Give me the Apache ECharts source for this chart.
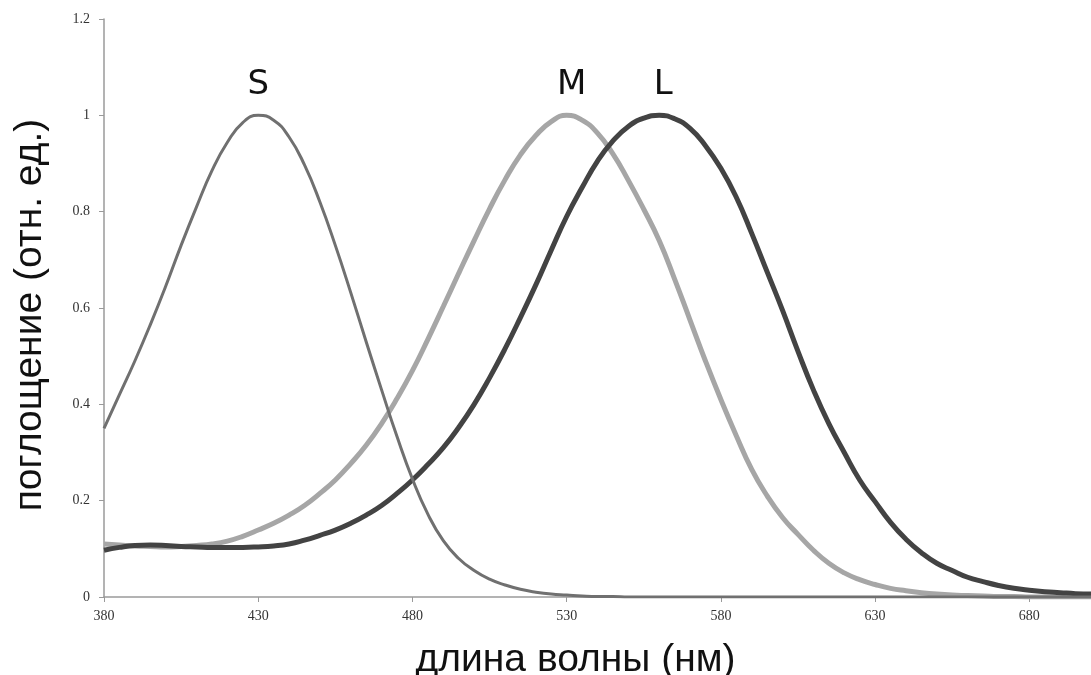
<!DOCTYPE html>
<html>
<head>
<meta charset="utf-8">
<script src="https://cdn.jsdelivr.net/npm/echarts@6/dist/echarts.min.js"></script>
<style>
html,body{margin:0;padding:0;background:#fff;}
#chart{width:1091px;height:675px;}
</style>
</head>
<body>
<div id="chart"></div>
<script>
var wavelengths = [];
for (var w = 380; w <= 700; w += 5) wavelengths.push(w);
var sValues = [0.35,0.42,0.49,0.565,0.645,0.73,0.81,0.885,0.944,0.985,1.0,0.99,0.955,0.897,0.82,0.73,0.632,0.53,0.43,0.333,0.245,0.172,0.117,0.08,0.055,0.037,0.025,0.016,0.01,0.006,0.004,0.002,0.001,0.001,
  0,0,0,0,0,0,0,0,0,0,0,0,0,0,0,0,0,0,0,0,0,0,0,0,0,0,0,0,0,0,0];
var mValues = [0.11,0.108,0.106,0.105,0.104,0.105,0.107,0.11,0.116,0.126,0.139,0.153,0.17,0.19,0.215,0.243,0.277,0.315,0.36,0.412,0.47,0.535,0.603,0.672,0.74,0.806,0.866,0.918,0.958,0.987,1.0,0.99,0.963,0.92,0.865,0.805,0.74,0.66,0.575,0.49,0.41,0.335,0.265,0.21,0.165,0.13,0.097,0.07,0.05,0.036,0.026,0.018,0.013,0.009,0.006,0.004,0.003,0.002,0.001,0.001,0,0,0,0,0];
var lValues = [0.097,0.103,0.107,0.108,0.107,0.105,0.104,0.103,0.103,0.103,0.104,0.106,0.11,0.118,0.128,0.139,0.153,0.17,0.19,0.215,0.243,0.275,0.31,0.352,0.40,0.455,0.515,0.58,0.648,0.72,0.79,0.85,0.905,0.947,0.977,0.994,1.0,0.993,0.973,0.937,0.89,0.83,0.755,0.675,0.595,0.51,0.43,0.36,0.30,0.243,0.198,0.155,0.12,0.092,0.07,0.055,0.041,0.032,0.024,0.018,0.014,0.011,0.009,0.007,0.006];
var yTicks = {min: 0, max: 1.2, interval: 0.2};
var xTicks = {min: 380, max: 700, interval: 50};
var seriesNames = ['S','M','L'];

function pairs(vals){ return wavelengths.map(function(w,i){ return [w, vals[i]]; }); }

function peakMark(name, vals, dx){
  var mi = 0;
  for (var i=1;i<vals.length;i++) if (vals[i]>vals[mi]) mi=i;
  return {
    symbol: 'circle', symbolSize: 0, silent: true,
    data: [{coord: [wavelengths[mi], vals[mi]], value: name}],
    label: {show: true, position: 'top', distance: 13, offset: [dx, 0], formatter: name,
            fontFamily: 'DejaVu Sans', fontSize: 34, color: '#111'}
  };
}

var chart = echarts.init(document.getElementById('chart'), null, {renderer:'canvas'});
chart.setOption({
  animation: false,
  backgroundColor: '#fff',
  grid: {left: 104, right: 0, top: 19, bottom: 78, containLabel: false, outerBoundsMode: 'none'},
  xAxis: {
    type: 'value', min: xTicks.min, max: xTicks.max, interval: xTicks.interval,
    name: 'длина волны (нм)', nameLocation: 'middle', nameGap: 44,
    nameTextStyle: {fontFamily: 'Liberation Sans', fontSize: 39, color: '#111', padding: [0, 44, 0, 0]},
    axisLine: {show: true, lineStyle: {color: '#9a9a9a', width: 1.5}},
    axisTick: {show: true, length: 5, lineStyle: {color: '#9a9a9a'}},
    axisLabel: {fontFamily: 'Liberation Serif', fontSize: 14, color: '#333', margin: 12,
      formatter: function(v){ return v === xTicks.max ? '' : String(v); }},
    splitLine: {show: false}
  },
  yAxis: {
    type: 'value', min: yTicks.min, max: yTicks.max, interval: yTicks.interval,
    name: 'поглощение (отн. ед.)', nameLocation: 'middle', nameGap: 54, nameRotate: 90,
    nameTextStyle: {fontFamily: 'Liberation Sans', fontSize: 39, color: '#111', padding: [0, 14, 0, 0]},
    axisLine: {show: true, lineStyle: {color: '#9a9a9a', width: 1.5}},
    axisTick: {show: true, length: 5, lineStyle: {color: '#9a9a9a'}},
    axisLabel: {fontFamily: 'Liberation Serif', fontSize: 14, color: '#333', margin: 14},
    splitLine: {show: false}
  },
  series: [
    {name: seriesNames[1], type: 'line', smooth: true, showSymbol: false, data: pairs(mValues),
     lineStyle: {color: '#a6a6a6', width: 5}, z: 2, markPoint: peakMark('M', mValues, 5)},
    {name: seriesNames[2], type: 'line', smooth: true, showSymbol: false, data: pairs(lValues),
     lineStyle: {color: '#434343', width: 5}, z: 3, markPoint: peakMark('L', lValues, 4)},
    {name: seriesNames[0], type: 'line', smooth: true, showSymbol: false, data: pairs(sValues),
     lineStyle: {color: '#707070', width: 3}, z: 4, markPoint: peakMark('S', sValues, 0)}
  ]
});
</script>
</body>
</html>
